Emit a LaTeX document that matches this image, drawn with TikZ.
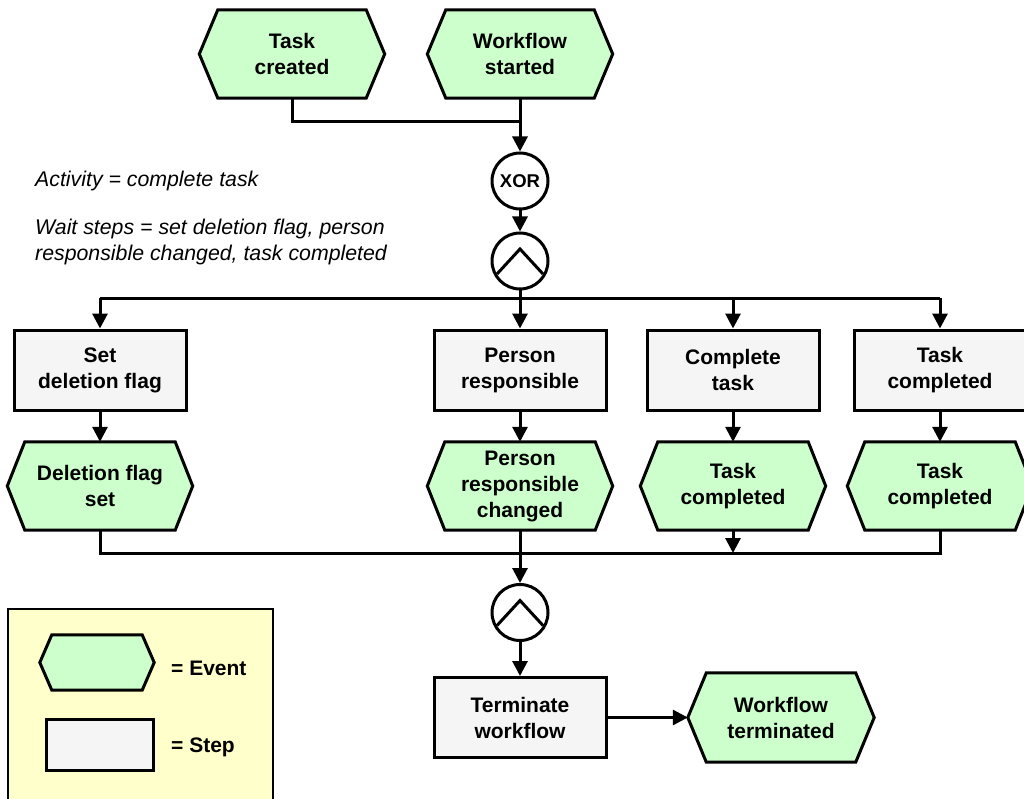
\documentclass[tikz,border=0pt]{standalone}
\usepackage{fontspec}
\setmainfont{Liberation Sans}
\usetikzlibrary{arrows.meta,calc,backgrounds}
\pgfdeclarelayer{bottom}
\pgfsetlayers{bottom,background,main}
\definecolor{evfill}{HTML}{CCFFCC}
\definecolor{stfill}{HTML}{F5F5F5}
\definecolor{lgfill}{HTML}{FFFFCC}
\tikzset{
  lbl/.style={font=\fontsize{21}{26}\selectfont\bfseries, align=center, inner sep=0pt},
  hexline/.style={draw=black, fill=evfill, line width=3pt, line join=miter},
  stepbox/.style={lbl, draw=black, fill=stfill, line width=3pt, minimum width=172pt, minimum height=80pt},
  gate/.style={circle, draw=black, fill=white, line width=3pt, minimum size=56pt, inner sep=0pt},
  andgate/.style={gate, path picture={\draw[line width=3pt, line join=miter]
      ($(path picture bounding box.center)+(-23,13)$) --
      ($(path picture bounding box.center)+(0,-12)$) --
      ($(path picture bounding box.center)+(23,13)$);}},
  ln/.style={line width=3pt},
  arr/.style={ln, -{Triangle[length=15pt,width=15pt]}},
  itl/.style={font=\fontsize{21.3}{26}\selectfont\itshape, inner sep=0pt, anchor=base west},
  legtxt/.style={font=\fontsize{21}{26}\selectfont\bfseries, inner sep=0pt, anchor=base west}
}
% name, position, text, indent, width, height
\newcommand\hexev[6]{%
  \node[lbl, minimum width=#5pt, minimum height=#6pt] (#1) at #2 {#3};
  \begin{pgfonlayer}{background}
    \draw[hexline] (#1.west) -- ([xshift=#4pt]#1.north west) -- ([xshift=-#4pt]#1.north east)
      -- (#1.east) -- ([xshift=-#4pt]#1.south east) -- ([xshift=#4pt]#1.south west) -- cycle;
  \end{pgfonlayer}}
\begin{document}
\begin{tikzpicture}[x=1pt,y=-1pt]
\useasboundingbox (0,0) rectangle (1024,799);

% top events
\hexev{tcr}{(292,54)}{Task\\created}{18.5}{185}{88}
\hexev{wfs}{(520,54)}{Workflow\\started}{18.5}{185}{88}

% gates
\node[gate, font=\fontsize{18.5}{20}\selectfont\bfseries] (xor) at (520,181) {XOR};
\node[andgate] (and1) at (520,261) {};

% annotations
\node[itl] (ann1) at (35,187) {Activity = complete task};
\node[itl] (ann2) at (35,235) {Wait steps = set deletion flag, person};
\node[itl] (ann3) at (35,261) {responsible changed, task completed};

% steps
\node[stepbox] (sd) at (100,370) {Set\\deletion flag};
\node[stepbox] (pr) at (520,370) {Person\\responsible};
\node[stepbox] (ct) at (733,370) {Complete\\task};
\node[stepbox] (tcs) at (940,370) {Task\\completed};

% events row
\hexev{dfs}{(100,486)}{Deletion flag\\set}{17.5}{185}{88}
\hexev{prc}{(520,486)}{Person\\responsible\\changed}{17.5}{185}{88}
\hexev{tce1}{(733,486)}{Task\\completed}{17.5}{185}{88}
\hexev{tce2}{(940,486)}{Task\\completed}{17.5}{185}{88}

% lower part
\node[andgate] (and2) at (520,612.5) {};
\node[stepbox] (tw) at (520,717.5) {Terminate\\workflow};
\hexev{wft}{(781,717.5)}{Workflow\\terminated}{18.5}{186}{89}

% legend
\begin{pgfonlayer}{bottom}
  \draw[line width=2.5pt, fill=lgfill] (8,609) rectangle (273,812);
\end{pgfonlayer}
\hexev{legev}{(97,662.5)}{}{12}{114}{55}
\node[draw=black, fill=stfill, line width=3pt, minimum width=107pt, minimum height=51pt, inner sep=0pt] (legst) at (99.5,744.5) {};
\node[legtxt] (legevt) at (171,675) {= Event};
\node[legtxt] (legstt) at (171,752) {= Step};

% coordinates
\coordinate (j1) at (520,122);
\coordinate (split) at (520,298);
\coordinate (col) at (520,553);

% connectors
\draw[ln] (tcr.south) |- (j1);
\draw[arr] (wfs.south) -- (xor);
\draw[arr] (xor) -- (and1);
\draw[ln] (sd.north |- split) -- (tcs.north |- split);
\draw[arr] (sd.north |- split) -- (sd.north);
\draw[arr] (and1) -- (pr.north);
\draw[arr] (ct.north |- split) -- (ct.north);
\draw[arr] (tcs.north |- split) -- (tcs.north);

\draw[arr] (sd.south) -- (dfs.north);
\draw[arr] (pr.south) -- (prc.north);
\draw[arr] (ct.south) -- (tce1.north);
\draw[arr] (tcs.south) -- (tce2.north);

\draw[ln] (dfs.south) -- (dfs.south |- col) -- (tce2.south |- col) -- (tce2.south);
\draw[arr] (tce1.south) -- (tce1.south |- col);
\draw[arr] (prc.south) -- (and2);
\draw[arr] (and2) -- (tw.north);
\draw[arr] (tw.east) -- (wft.west);
\end{tikzpicture}
\end{document}
